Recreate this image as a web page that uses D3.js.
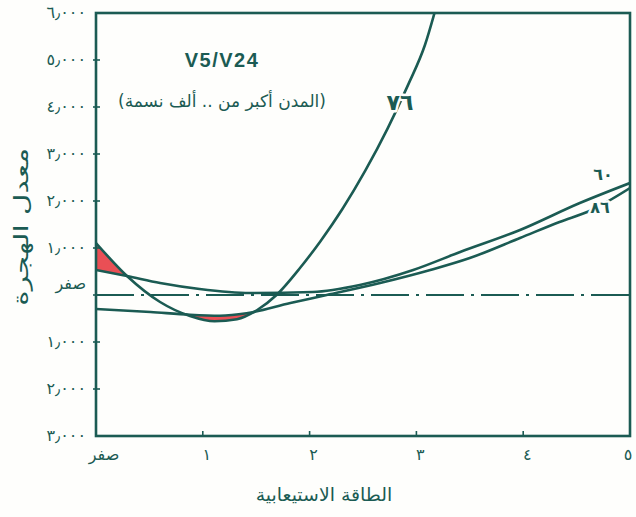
<!DOCTYPE html>
<html lang="ar">
<head>
<meta charset="utf-8">
<script src="https://cdn.jsdelivr.net/npm/d3@7"></script>
<style>
  html, body { margin: 0; padding: 0; background: #fff; }
  svg { display: block; }
  text { font-family: "DejaVu Sans", sans-serif; fill: #1b5b53; }
</style>
</head>
<body>
<svg id="chart" width="636" height="517"></svg>
<script>
// Absorptive capacity (x) against migration rate (y)
const capacityTicks = [0, 1, 2, 3, 4, 5];
const capacityTickLabels = ["صفر", "١", "٢", "٣", "٤", "٥"];
const rateTicks = [6000, 5000, 4000, 3000, 2000, 1000, 0, -1000, -2000, -3000];
const rateTickLabels = ["٦٫٠٠٠", "٥٫٠٠٠", "٤٫٠٠٠", "٣٫٠٠٠", "٢٫٠٠٠", "١٫٠٠٠", "صفر", "١٫٠٠٠", "٢٫٠٠٠", "٣٫٠٠٠"];

// Census curves
const capacity76 = [0, 0.29, 0.6, 0.88, 1.11, 1.32, 1.51, 1.69, 1.91, 2.1, 2.31, 2.52, 2.73, 2.92, 3.08, 3.2];
const rate76 = [1106, 404, -149, -447, -560, -515, -319, 0, 574, 1140, 1840, 2640, 3540, 4460, 5319, 6250];

const capacity60 = [0, 0.29, 0.6, 0.97, 1.44, 2.03, 2.47, 2.97, 3.41, 3.97, 4.53, 5];
const rate60 = [532, 404, 255, 128, 43, 64, 213, 532, 915, 1383, 1957, 2383];

const capacity86 = [0, 0.51, 0.88, 1.16, 1.41, 1.82, 2.16, 2.66, 3.13, 3.5, 3.97, 4.34, 4.64, 5];
const rate86 = [-298, -362, -420, -440, -390, -170, 0, 255, 532, 787, 1213, 1553, 1809, 2277];

const seriesNames = ["٧٦", "٦٠", "٨٦"];
const chartTitle = "V5/V24";
const chartSubtitle = "(المدن أكبر من .. ألف نسمة)";
const xTitle = "الطاقة الاستيعابية";
const yTitle = "معدل الهجرة";

const ink = "#1b5b53";
const shade = "#ea4f55";

const svg = d3.select("#chart");
const margin = { left: 96, right: 6, top: 13, bottom: 81 };
const W = 636, H = 517;

const x = d3.scaleLinear().domain([0, 5]).range([margin.left, W - margin.right]);
const y = d3.scaleLinear().domain([-3000, 6000]).range([H - margin.bottom, margin.top]);

svg.append("rect").attr("width", W).attr("height", H).attr("fill", "#fefefc");

svg.append("clipPath").attr("id", "plot")
  .append("rect")
  .attr("x", x(0)).attr("y", y(6000))
  .attr("width", x(5) - x(0)).attr("height", y(-3000) - y(6000));

const zip = (xs, ys) => xs.map((v, i) => [v, ys[i]]);
const lineGen = d3.line().x(d => x(d[0])).y(d => y(d[1])).curve(d3.curveMonotoneX);

const data76 = zip(capacity76, rate76);
const data60 = zip(capacity60, rate60);
const data86 = zip(capacity86, rate86);

// Dense pixel samples of each drawn curve, used for the shaded regions
function sampler(data) {
  const p = svg.append("path").attr("d", lineGen(data)).attr("fill", "none").attr("stroke", "none");
  const node = p.node();
  const L = node.getTotalLength();
  const pts = [];
  for (let i = 0; i <= 1500; i++) {
    const q = node.getPointAtLength(L * i / 1500);
    pts.push([q.x, q.y]);
  }
  p.remove();
  pts.sort((a, b) => a[0] - b[0]);
  const xs = pts.map(d => d[0]);
  return px => {
    if (px < xs[0] || px > xs[xs.length - 1]) return NaN;
    const i = Math.max(1, d3.bisectLeft(xs, px));
    const a = pts[i - 1], b = pts[i];
    const t = b[0] === a[0] ? 0 : (px - a[0]) / (b[0] - a[0]);
    return a[1] + t * (b[1] - a[1]);
  };
}
const f76 = sampler(data76), f60 = sampler(data60), f86 = sampler(data86);

const plot = svg.append("g").attr("clip-path", "url(#plot)");

// Shaded regions: 76 above 60 at low capacity, and 76 dipping below 86
const areaGen = d3.area().x(d => d[0]).y0(d => d[1]).y1(d => d[2]);
const regionA = [];
for (let px = x(0); px <= x(5); px += 0.25) {
  const a = f76(px), b = f60(px);
  if (!(a < b)) break;
  regionA.push([px, b, a]);
}
const regionB = [];
for (let px = x(0); px <= x(5); px += 0.25) {
  const a = f76(px), b = f86(px);
  if (a > b) regionB.push([px, b, a]);
  else if (regionB.length) break;
}
[regionA, regionB].forEach(r => {
  plot.append("path").attr("d", areaGen(r)).attr("fill", shade).attr("stroke", "none");
});

// Zero reference line
plot.append("line")
  .attr("x1", x(0)).attr("x2", x(5)).attr("y1", y(0)).attr("y2", y(0))
  .attr("stroke", ink).attr("stroke-width", 2)
  .attr("stroke-dasharray", "38,7,3,7");

// Curves
[data76, data60, data86].forEach(d => {
  plot.append("path").attr("d", lineGen(d))
    .attr("fill", "none").attr("stroke", ink)
    .attr("stroke-width", 2.6).attr("stroke-linecap", "round");
});

// Frame
svg.append("rect")
  .attr("x", x(0)).attr("y", y(6000))
  .attr("width", x(5) - x(0)).attr("height", y(-3000) - y(6000))
  .attr("fill", "none").attr("stroke", ink).attr("stroke-width", 2.6);

// Y ticks and labels
const yAxis = svg.append("g");
rateTicks.forEach((v, i) => {
  if (i > 0 && i < rateTicks.length - 1) {
    yAxis.append("line").attr("x1", x(0) - 3).attr("x2", x(0) + 4)
      .attr("y1", y(v)).attr("y2", y(v)).attr("stroke", ink).attr("stroke-width", 1.6);
  }
  yAxis.append("text")
    .attr("x", x(0) - 10).attr("y", y(v) + (v === 0 ? -6 : 5))
    .attr("text-anchor", "end").attr("font-size", 16)
    .text(rateTickLabels[i]);
});

// X ticks and labels
const xAxis = svg.append("g");
capacityTicks.forEach((v, i) => {
  if (i > 0 && i < capacityTicks.length - 1) {
    xAxis.append("line").attr("x1", x(v)).attr("x2", x(v))
      .attr("y1", y(-3000)).attr("y2", y(-3000) - 5).attr("stroke", ink).attr("stroke-width", 1.6);
  }
  xAxis.append("text")
    .attr("x", i === 0 ? x(v) + 8 : (i === capacityTicks.length - 1 ? x(v) - 2 : x(v) + 4))
    .attr("y", y(-3000) + 24)
    .attr("text-anchor", "middle").attr("font-size", 16)
    .text(capacityTickLabels[i]);
});

// Axis titles
svg.append("text")
  .attr("transform", "translate(324, 501) scale(1.05, 1)")
  .attr("text-anchor", "middle").attr("font-size", 18)
  .text(xTitle);
svg.append("text")
  .attr("transform", `translate(28, ${y(1450)}) rotate(-90) scale(1.55, 1.05)`)
  .attr("text-anchor", "middle").attr("font-size", 19)
  .text(yTitle);

// Title block
svg.append("text")
  .attr("x", 222).attr("y", 67)
  .attr("text-anchor", "middle").attr("font-size", 20).attr("font-weight", "bold")
  .attr("letter-spacing", 1.5)
  .style("font-family", "'Liberation Sans', Arial, sans-serif")
  .text(chartTitle);
svg.append("text")
  .attr("x", 222).attr("y", 107)
  .attr("text-anchor", "middle").attr("font-size", 17)
  .text(chartSubtitle);

// Curve labels
const halo = sel => sel.attr("stroke", "#fefefc").attr("stroke-width", 5)
  .attr("paint-order", "stroke").attr("stroke-linejoin", "round");
svg.append("text").attr("x", 400).attr("y", 110)
  .attr("text-anchor", "middle").attr("font-size", 22).attr("font-weight", "bold")
  .call(halo).text(seriesNames[0]);
svg.append("text").attr("x", 603).attr("y", 180)
  .attr("text-anchor", "middle").attr("font-size", 16).attr("font-weight", "bold")
  .call(halo).text(seriesNames[1]);
svg.append("text").attr("x", 600).attr("y", 213)
  .attr("text-anchor", "middle").attr("font-size", 16).attr("font-weight", "bold")
  .call(halo).text(seriesNames[2]);
</script>
</body>
</html>
